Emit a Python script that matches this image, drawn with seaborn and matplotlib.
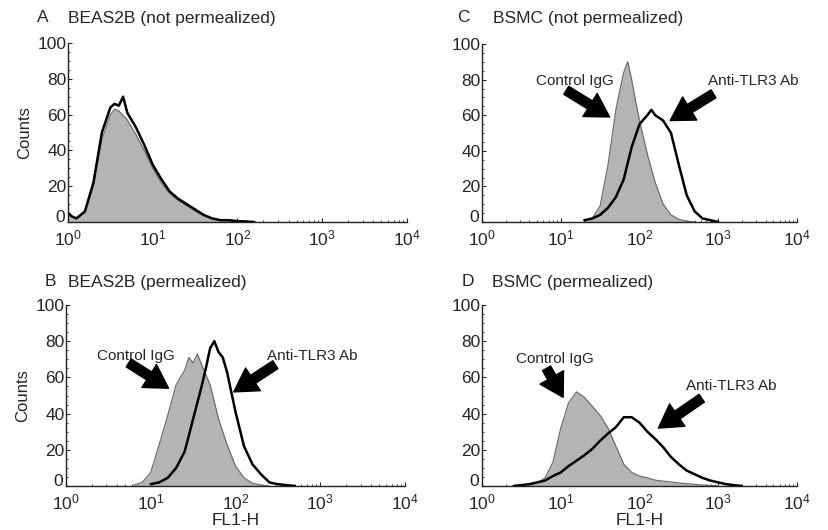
import numpy as np
import pandas as pd
import matplotlib
matplotlib.use("Agg")
import matplotlib.pyplot as plt
import matplotlib.transforms as mtransforms
from matplotlib.ticker import FixedLocator, FixedFormatter, MultipleLocator, LogLocator, NullFormatter
import seaborn as sns

# ── Data ─────────────────────────────────────────────────────────────────────
# FL1-H positions are stored as decade exponents (FL1-H = 10**exp).

A_ctrl_exp = [0.0, 0.05, 0.1, 0.2, 0.3, 0.4, 0.5, 0.55, 0.6, 0.7, 0.8, 0.9, 1.0, 1.1,
              1.2, 1.3, 1.4, 1.5, 1.6, 1.7, 1.8, 1.9, 2.0, 2.1, 2.2]
A_ctrl_counts = [4, 3, 2, 5, 20, 46, 60, 63, 62, 57, 49, 40, 30, 22,
                 16, 12, 9, 6, 3.5, 2, 1, 0.8, 0.4, 0.2, 0]
A_anti_exp = [0.0, 0.05, 0.1, 0.2, 0.3, 0.4, 0.5, 0.55, 0.6, 0.65, 0.7, 0.8, 0.9, 1.0,
              1.1, 1.2, 1.3, 1.4, 1.5, 1.6, 1.7, 1.8, 1.9, 2.0, 2.1, 2.2]
A_anti_counts = [5, 3, 2, 6, 22, 50, 64, 66, 65, 70, 61, 53, 43, 32,
                 24, 17, 13, 10, 7, 4, 2, 1, 1, 0.5, 0.3, 0]

B_ctrl_exp = [0.8, 0.9, 1.0, 1.1, 1.2, 1.3, 1.4, 1.45, 1.5, 1.55, 1.6, 1.7, 1.8, 1.9,
              2.0, 2.1, 2.2, 2.3, 2.4]
B_ctrl_counts = [0.5, 2, 7.5, 23, 39, 56, 64, 71, 68, 73, 67, 56, 37, 23,
                 11, 4.5, 1.5, 0.5, 0]
B_anti_exp = [1.0, 1.1, 1.2, 1.3, 1.4, 1.5, 1.6, 1.65, 1.7, 1.75, 1.8, 1.85, 1.9, 2.0,
              2.1, 2.2, 2.3, 2.4, 2.5, 2.6, 2.7]
B_anti_counts = [1, 2, 4.5, 10, 19, 37, 55, 65, 76, 80, 74, 71, 63, 41,
                 22, 12, 6.5, 2, 1, 0.5, 0]

C_ctrl_exp = [1.3, 1.4, 1.5, 1.6, 1.7, 1.75, 1.8, 1.85, 1.9, 1.95, 2.0, 2.1, 2.2, 2.3,
              2.4, 2.5, 2.6, 2.7]
C_ctrl_counts = [0.5, 2, 9, 32, 63, 74, 84, 90, 80, 68, 57, 38, 22, 10,
                 4, 1.5, 0.5, 0]
C_anti_exp = [1.3, 1.4, 1.5, 1.6, 1.7, 1.8, 1.9, 2.0, 2.1, 2.15, 2.2, 2.3, 2.4, 2.5,
              2.6, 2.7, 2.8, 2.9, 3.0]
C_anti_counts = [1, 2, 4, 8, 14, 24, 42, 55, 60, 63, 60, 57, 50, 32,
                 15, 6, 2, 1, 0]

D_ctrl_exp = [0.6, 0.7, 0.8, 0.9, 1.0, 1.1, 1.2, 1.3, 1.4, 1.5, 1.6, 1.7, 1.8, 1.9,
              2.0, 2.1, 2.2, 2.3, 2.4, 2.5, 2.6, 2.7, 2.8, 2.9, 3.0]
D_ctrl_counts = [0.5, 1.5, 4.5, 13, 32, 46, 52, 49, 44, 39, 32, 22, 12, 7.5,
                 5.5, 4.5, 3.2, 2.7, 2.2, 1.6, 1.3, 0.9, 0.5, 0.3, 0]
D_anti_exp = [0.4, 0.5, 0.6, 0.7, 0.8, 0.9, 1.0, 1.1, 1.2, 1.3, 1.4, 1.5, 1.6, 1.7,
              1.8, 1.9, 2.0, 2.1, 2.2, 2.3, 2.4, 2.5, 2.6, 2.7, 2.8, 2.9, 3.0, 3.1,
              3.2, 3.3]
D_anti_counts = [0, 0.5, 1, 2, 3, 5.5, 7.5, 11, 14, 17, 20.5, 25, 29, 32.5,
                 38, 38, 35, 30, 26, 21.5, 16, 12, 8.5, 6.5, 4.5, 3, 2, 1,
                 0.5, 0]

PANEL_LETTERS = ["A", "B", "C", "D"]
PANEL_TITLES = ["BEAS2B (not permealized)", "BEAS2B (permealized)",
                "BSMC (not permealized)", "BSMC (permealized)"]
X_TICK_LABELS = [r"$\mathregular{10^{0}}$", r"$\mathregular{10^{1}}$", r"$\mathregular{10^{2}}$",
                 r"$\mathregular{10^{3}}$", r"$\mathregular{10^{4}}$"]
Y_TICKS = [0, 20, 40, 60, 80, 100]

# arrow annotations: (label, text exp, text count, tail exp, tail count, tip exp, tip count)
B_ARROWS = [("Control IgG", 0.83, 72, 0.74, 68, 1.21, 54),
            ("Anti-TLR3 Ab", 2.90, 72, 2.47, 67, 1.98, 52)]
C_ARROWS = [("Control IgG", 1.18, 79, 1.07, 74, 1.62, 59),
            ("Anti-TLR3 Ab", 3.45, 79, 2.94, 72, 2.39, 57)]
D_ARROWS = [("Control IgG", 0.93, 70, 0.82, 65, 1.03, 49),
            ("Anti-TLR3 Ab", 3.17, 55, 2.79, 48.5, 2.24, 32)]


sns.set_style("ticks")
plt.rcParams["font.family"] = ["Liberation Sans", "DejaVu Sans"]
plt.rcParams["mathtext.fontset"] = "custom"
plt.rcParams["mathtext.rm"] = "Liberation Sans"
plt.rcParams["mathtext.it"] = "Liberation Sans"


def to_frame(exp, counts):
    return pd.DataFrame({"FL1-H": np.power(10.0, exp), "Counts": counts})


def draw_panel(ax, ctrl_exp, ctrl_counts, anti_exp, anti_counts):
    ax.set_xscale("log")
    ctrl = to_frame(ctrl_exp, ctrl_counts)
    anti = to_frame(anti_exp, anti_counts)
    ax.fill_between(ctrl["FL1-H"], ctrl["Counts"], color="#b4b4b4", lw=0, zorder=1)
    sns.lineplot(data=ctrl, x="FL1-H", y="Counts", ax=ax, color="#6e6e6e", lw=0.9,
                 sort=False, zorder=2)
    sns.lineplot(data=anti, x="FL1-H", y="Counts", ax=ax, color="black", lw=1.8,
                 sort=False, zorder=3)
    ax.set_xlim(1, 1e4)
    ax.set_ylim(0, 100)
    ax.xaxis.set_major_locator(FixedLocator([1, 10, 100, 1000, 10000]))
    ax.xaxis.set_major_formatter(FixedFormatter(X_TICK_LABELS))
    ax.xaxis.set_minor_locator(LogLocator(base=10, subs=np.arange(2, 10), numticks=20))
    ax.xaxis.set_minor_formatter(NullFormatter())
    ax.set_yticks(Y_TICKS)
    ax.yaxis.set_minor_locator(MultipleLocator(5))
    ax.tick_params(which="major", direction="in", length=3, width=0.8, labelsize=12.5)
    ax.tick_params(axis="y", which="major", pad=1)
    ax.tick_params(axis="x", which="major", pad=5)
    ax.tick_params(which="minor", direction="in", length=1.5, width=0.6)
    ax.set_xlabel("")
    ax.set_ylabel("")
    sns.despine(ax=ax)
    for sp in ("left", "bottom"):
        ax.spines[sp].set_linewidth(1.0)
        ax.spines[sp].set_color("#222222")
    # lift the "0" count label a little so it clears the 10^0 label below it
    zero_lbl = ax.yaxis.get_major_ticks()[0].label1
    zero_lbl.set_transform(zero_lbl.get_transform()
                           + mtransforms.ScaledTranslation(-1 / 72, 4 / 72, fig.dpi_scale_trans))


def add_arrows(ax, arrows):
    for label, tx, ty, x0, y0, x1, y1 in arrows:
        ax.text(10 ** tx, ty, label, ha="center", va="center", fontsize=11)
        ax.annotate("", xy=(10 ** x1, y1), xytext=(10 ** x0, y0),
                    arrowprops=dict(arrowstyle="simple,head_width=1.3,head_length=1.1,tail_width=0.45",
                                    color="black", mutation_scale=15, shrinkA=0, shrinkB=0))


W, H = 829, 530
fig = plt.figure(figsize=(W / 100, H / 100), dpi=100)

# axes boxes in pixels: left, top, right, bottom
boxes = [(68, 43, 407, 222), (66, 305, 405, 486), (482, 44, 797, 222), (482, 305, 797, 486)]
series = [(A_ctrl_exp, A_ctrl_counts, A_anti_exp, A_anti_counts),
          (B_ctrl_exp, B_ctrl_counts, B_anti_exp, B_anti_counts),
          (C_ctrl_exp, C_ctrl_counts, C_anti_exp, C_anti_counts),
          (D_ctrl_exp, D_ctrl_counts, D_anti_exp, D_anti_counts)]
letter_x = [37, 45, 457, 462]
title_x = [68, 68, 493, 492]
title_y = [18, 282, 18, 282]

axes = []
for i, (l, t, r, b) in enumerate(boxes):
    ax = fig.add_axes([l / W, 1 - b / H, (r - l) / W, (b - t) / H])
    draw_panel(ax, *series[i])
    fig.text(letter_x[i] / W, 1 - title_y[i] / H, PANEL_LETTERS[i], fontsize=12.5, va="center")
    fig.text(title_x[i] / W, 1 - title_y[i] / H, PANEL_TITLES[i], fontsize=12.5, va="center")
    axes.append(ax)

axes[0].set_ylabel("Counts", fontsize=12, labelpad=4)
axes[1].set_ylabel("Counts", fontsize=12, labelpad=4)
axes[1].set_xlabel("FL1-H", fontsize=12.5, labelpad=0)
axes[3].set_xlabel("FL1-H", fontsize=12.5, labelpad=0)

add_arrows(axes[1], B_ARROWS)
add_arrows(axes[2], C_ARROWS)
add_arrows(axes[3], D_ARROWS)

fig.savefig("out.png", dpi=100)
